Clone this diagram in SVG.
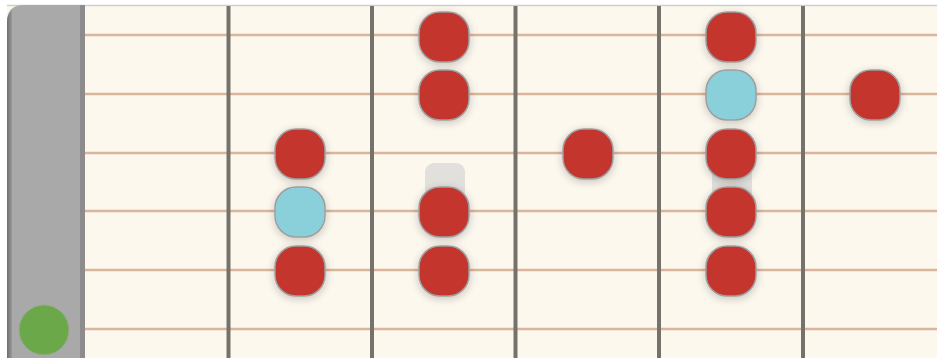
<svg xmlns="http://www.w3.org/2000/svg" width="937" height="358" viewBox="0 0 937 358">
<defs>
<filter id="sh" x="-50%" y="-50%" width="200%" height="200%">
<feGaussianBlur in="SourceAlpha" stdDeviation="4"/>
<feOffset dx="0" dy="2"/>
<feComponentTransfer><feFuncA type="linear" slope="0.22"/></feComponentTransfer>
<feMerge><feMergeNode/><feMergeNode in="SourceGraphic"/></feMerge>
</filter>
<linearGradient id="nutL" x1="0" x2="1" y1="0" y2="0">
<stop offset="0" stop-color="#6e6e6e"/>
<stop offset="1" stop-color="#9a9a9a"/>
</linearGradient>
</defs>
<style>
.str{stroke:#d9b59b;stroke-width:2.5}
.fret{stroke:#75726b;stroke-width:4}
.red{fill:#c4342d;stroke:#9e9e9e;stroke-width:1.5}
.cyan{fill:#8ad0da;stroke:#9e9e9e;stroke-width:1.5}
.ghost{fill:#e2e0dc}
</style>
<rect width="937" height="358" fill="#ffffff"/>
<rect x="7" y="5" width="930" height="353" fill="#fdf8ee"/>
<line x1="7" y1="5.5" x2="937" y2="5.5" stroke="#cfcfcf" stroke-width="1.5"/>
<g id="nut">
<path d="M7,358 V22 Q7,5 24,5 H84 V358 Z" fill="#a9a9a9"/>
<path d="M7,358 V22 Q7,14 12,10 V358 Z" fill="url(#nutL)"/>
<rect x="80" y="5" width="5" height="353" fill="#8c8c8c"/>
</g>
<g id="strings">
<line class="str" x1="85" y1="35" x2="937" y2="35"/>
<line class="str" x1="85" y1="94" x2="937" y2="94"/>
<line class="str" x1="85" y1="153" x2="937" y2="153"/>
<line class="str" x1="85" y1="211" x2="937" y2="211"/>
<line class="str" x1="85" y1="270" x2="937" y2="270"/>
<line class="str" x1="85" y1="329" x2="937" y2="329"/>
</g>
<g id="frets">
<line class="fret" x1="228.5" y1="6" x2="228.5" y2="358"/>
<line class="fret" x1="372" y1="6" x2="372" y2="358"/>
<line class="fret" x1="515.5" y1="6" x2="515.5" y2="358"/>
<line class="fret" x1="659" y1="6" x2="659" y2="358"/>
<line class="fret" x1="803" y1="6" x2="803" y2="358"/>
</g>
<g id="ghosts">
<rect class="ghost" x="425" y="163" width="40" height="45" rx="9"/>
<rect class="ghost" x="712" y="163" width="40" height="45" rx="9"/>
</g>
<g id="notes" filter="url(#sh)">
<g id="n-2-3"><rect class="red" x="275" y="129" width="50" height="50" rx="21"/></g>
<g id="n-2-4"><rect class="cyan" x="275" y="187" width="50" height="50" rx="21"/></g>
<g id="n-2-5"><rect class="red" x="275" y="246" width="50" height="50" rx="21"/></g>
<g id="n-3-1"><rect class="red" x="419" y="12" width="50" height="50" rx="21"/></g>
<g id="n-3-2"><rect class="red" x="419" y="70" width="50" height="50" rx="21"/></g>
<g id="n-3-4"><rect class="red" x="419" y="187" width="50" height="50" rx="21"/></g>
<g id="n-3-5"><rect class="red" x="419" y="246" width="50" height="50" rx="21"/></g>
<g id="n-4-3"><rect class="red" x="563" y="129" width="50" height="50" rx="21"/></g>
<g id="n-5-1"><rect class="red" x="706" y="12" width="50" height="50" rx="21"/></g>
<g id="n-5-2"><rect class="cyan" x="706" y="70" width="50" height="50" rx="21"/></g>
<g id="n-5-3"><rect class="red" x="706" y="129" width="50" height="50" rx="21"/></g>
<g id="n-5-4"><rect class="red" x="706" y="187" width="50" height="50" rx="21"/></g>
<g id="n-5-5"><rect class="red" x="706" y="246" width="50" height="50" rx="21"/></g>
<g id="n-6-2"><rect class="red" x="850" y="70" width="50" height="50" rx="21"/></g>
</g>
<g id="open"><circle cx="44" cy="330" r="25" fill="#6aa84a" stroke="#9ba88f" stroke-width="1"/></g>
</svg>
